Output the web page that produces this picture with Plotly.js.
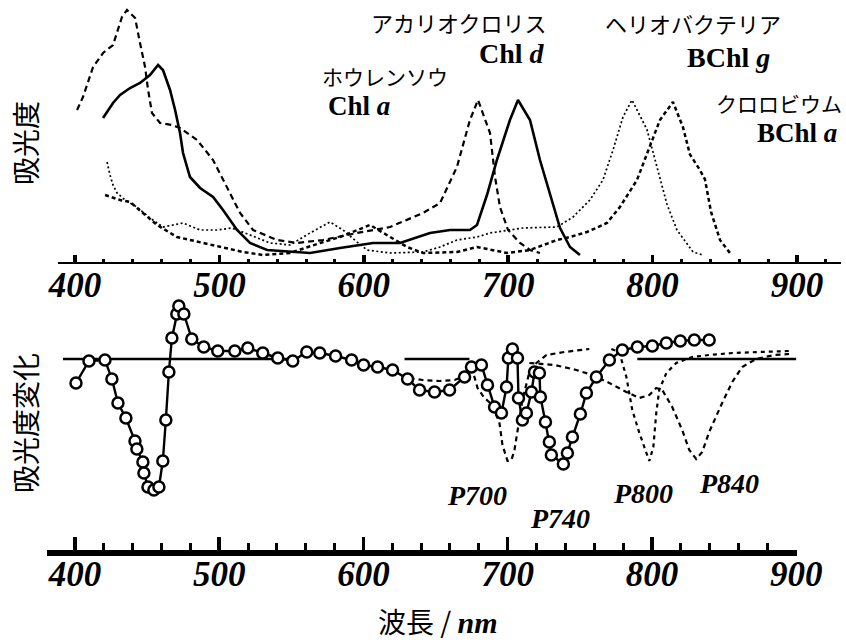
<!DOCTYPE html>
<html><head><meta charset="utf-8">
<script src="https://cdn.plot.ly/plotly-3.0.1.min.js"></script>
<style>html,body{margin:0;padding:0;background:#fff}</style>
</head><body><div id="chart" style="width:846px;height:644px"></div>
<script>
// ---- top panel: absorption spectra (wavelength nm, relative absorbance)
const spinachNm  = [401.4,405.5,412.5,419.4,426.3,432.5,436.0,441.6,445.0,448.5,450.6,453.3,458.9,467.2,472.7,484.5,495.6,505.3,514.3,523.3,539.9,553.7,571.7,595.3,618.1,641.0,652.8,664.5,673.5,679.1,687.4,690.9,694.3,699.9,708.2,715.1,722.0];
const spinachAbs = [0.608,0.66,0.78,0.836,0.868,0.98,1.008,0.976,0.876,0.78,0.688,0.596,0.556,0.548,0.536,0.488,0.408,0.30,0.196,0.128,0.088,0.076,0.088,0.116,0.14,0.196,0.236,0.38,0.568,0.648,0.516,0.34,0.22,0.128,0.076,0.048,0.036];

const chlDNm  = [419.4,426.3,431.2,438.1,445.0,451.9,457.5,460.9,465.8,469.3,472.7,474.8,479.6,486.6,495.6,502.5,512.2,521.2,533.0,548.9,562.7,583.5,606.4,625.1,645.8,659.7,673.5,678.4,685.3,692.2,701.2,706.8,715.1,722.0,728.9,735.9,742.8,749.7];
const chlDAbs = [0.576,0.636,0.668,0.696,0.716,0.748,0.788,0.768,0.688,0.608,0.516,0.436,0.34,0.296,0.26,0.208,0.128,0.076,0.048,0.04,0.036,0.056,0.076,0.076,0.116,0.128,0.128,0.148,0.268,0.408,0.568,0.648,0.568,0.408,0.268,0.136,0.06,0.028];

const helioNm  = [422.2,424.2,426.3,429.1,434.6,442.9,451.9,460.9,474.8,486.6,498.3,508.7,521.2,535.0,548.9,562.7,576.6,585.6,595.3,602.2,618.1,641.0,652.8,664.5,678.4,687.4,710.2,733.8,744.9,756.6,765.6,772.6,779.5,785.7,796.1,800.3,805.1,810.0,816.9,828.0,834.9];
const helioAbs = [0.40,0.348,0.308,0.276,0.248,0.22,0.176,0.14,0.156,0.128,0.128,0.136,0.108,0.076,0.068,0.116,0.16,0.128,0.08,0.048,0.036,0.04,0.06,0.088,0.10,0.116,0.136,0.14,0.18,0.248,0.328,0.448,0.58,0.648,0.53,0.44,0.34,0.23,0.128,0.04,0.028];

const chlorobiumNm  = [420.8,426.3,431.2,438.1,447.1,456.8,470.6,486.6,502.5,516.3,530.2,548.9,569.7,583.5,604.3,618.1,629.9,641.0,664.5,678.4,699.2,715.1,733.8,742.8,754.6,768.4,777.4,789.2,798.2,805.1,814.1,821.0,825.9,832.8,836.3,840.5,846.7,853.6];
const chlorobiumAbs = [0.268,0.256,0.248,0.24,0.196,0.148,0.10,0.08,0.06,0.04,0.028,0.036,0.076,0.10,0.148,0.10,0.06,0.036,0.04,0.06,0.036,0.048,0.088,0.10,0.12,0.156,0.22,0.328,0.46,0.568,0.64,0.54,0.43,0.368,0.33,0.20,0.088,0.036];

// ---- bottom panel: absorbance-change spectra
const diffNm  = [400.7,409.7,420.8,425.6,429.8,435.3,441.6,442.9,447.1,447.8,450.6,454.7,458.2,460.9,463.0,465.1,467.2,470.6,472.0,475.5,481.0,489.3,499.0,510.8,519.8,530.2,540.6,551.0,560.7,569.7,580.7,591.8,600.1,609.8,620.2,630.6,638.9,649.3,659.7,670.1,674.9,681.8,686.0,690.9,695.7,699.2,700.5,703.3,706.8,707.5,710.2,713.0,716.5,718.6,722.0,722.7,726.2,728.9,730.3,738.6,741.4,744.9,750.4,754.6,761.5,770.5,779.5,789.9,800.3,810.0,819.7,829.4,839.7];
const diffVal = [-0.24,-0.02,-0.01,-0.20,-0.44,-0.59,-0.82,-0.90,-1.03,-1.14,-1.28,-1.31,-1.28,-1.02,-0.61,-0.13,0.21,0.45,0.53,0.45,0.20,0.12,0.08,0.08,0.11,0.06,0.01,-0.02,0.07,0.06,0.03,-0.01,-0.06,-0.08,-0.11,-0.20,-0.31,-0.33,-0.31,-0.18,-0.08,-0.06,-0.26,-0.48,-0.54,-0.28,0.01,0.10,0.01,-0.39,-0.61,-0.54,-0.33,-0.13,-0.14,-0.38,-0.63,-0.83,-0.96,-1.05,-0.94,-0.78,-0.55,-0.34,-0.18,-0.01,0.09,0.12,0.13,0.16,0.18,0.19,0.19];

const p700Nm  = [632.0,641.0,652.8,663.2,671.5,675.6,679.1,683.9,689.5,694.3,696.4,699.9,702.6,704.7,707.5,710.2,715.1,719.9,726.9,739.3,756.6];
const p700Val = [-0.19,-0.21,-0.22,-0.21,-0.16,-0.11,-0.29,-0.39,-0.46,-0.64,-0.86,-1.02,-1.01,-0.91,-0.66,-0.41,-0.13,-0.04,0.04,0.07,0.10];

const p800Nm  = [771.9,777.4,782.3,786.4,791.3,796.1,798.2,801.0,803.0,805.1,810.0,816.9,828.0,839.7,855.7,874.4,895.1];
const p800Val = [0.10,0.07,-0.18,-0.51,-0.74,-0.94,-1.02,-0.88,-0.54,-0.31,-0.14,-0.04,0.02,0.04,0.06,0.07,0.08];

const p840Nm  = [715.1,732.4,747.6,758.7,770.5,782.3,791.3,798.2,803.0,807.2,814.1,821.0,825.9,830.7,834.9,839.7,848.7,855.7,862.6,872.3,884.7,895.1];
const p840Val = [-0.04,-0.06,-0.11,-0.16,-0.24,-0.33,-0.39,-0.36,-0.29,-0.31,-0.48,-0.71,-0.91,-1.00,-0.93,-0.73,-0.44,-0.23,-0.08,0.00,0.04,0.05];

const baseNm  = [391.7,554.4,null,628.5,673.5,null,789.9,900];
const baseVal = [0,0,null,0,0,null,0,0];

const tickVals = [400,500,600,700,800,900];
const tickText = ['400','500','600','700','800','900'];

// ---- traces
const K = '#000';
function line(x, y, xa, ya, width, dash){
  return {x:x, y:y, xaxis:xa, yaxis:ya, type:'scatter', mode:'lines', hoverinfo:'skip',
          line:{color:K, width:width, dash:dash}, showlegend:false};
}
const traces = [
  line(spinachNm, spinachAbs, 'x', 'y', 2.2, '6px,4px'),
  line(helioNm, helioAbs, 'x', 'y', 1.7, '2px,2.5px'),
  line(chlorobiumNm, chlorobiumAbs, 'x', 'y', 2.5, '4px,3px'),
  line(chlDNm, chlDAbs, 'x', 'y', 2.6, 'solid'),
  line(baseNm, baseVal, 'x2', 'y2', 2.6, 'solid'),
  line(p700Nm, p700Val, 'x2', 'y2', 2.2, '5px,4px'),
  line(p800Nm, p800Val, 'x2', 'y2', 2.2, '4px,4px'),
  line(p840Nm, p840Val, 'x2', 'y2', 2.2, '5px,4px'),
  {x:diffNm, y:diffVal, xaxis:'x2', yaxis:'y2', type:'scatter', mode:'lines+markers', hoverinfo:'skip',
   line:{color:K, width:2.4}, marker:{symbol:'circle', size:11, color:'#fff', line:{color:K, width:2.5}}, showlegend:false}
];

// ---- layout
const W = 846, H = 644;
const fx = v => v / W, fy = v => 1 - v / H;
const tickFont = {family:'Liberation Serif, Times New Roman, serif', size:35, weight:'bold', style:'italic', color:K};
const jp = 'Noto Sans CJK JP, sans-serif';
const serif = 'Liberation Serif, Times New Roman, serif';
function ann(text, x, y, size, family, xanchor, extra){
  return Object.assign({text:text, x:fx(x), y:fy(y), xref:'paper', yref:'paper', showarrow:false,
    xanchor:xanchor||'center', yanchor:'middle', borderpad:0, font:{family:family, size:size, color:K}}, extra||{});
}
const hidden = {showline:false, showgrid:false, zeroline:false, showticklabels:false, ticks:''};

const layout = {
  width:W, height:H, margin:{l:0, r:0, t:0, b:0},
  paper_bgcolor:'#fff', plot_bgcolor:'rgba(0,0,0,0)', showlegend:false,
  xaxis:{domain:[fx(58), fx(841)], range:[388.2, 930.5], anchor:'y',
         showline:true, linecolor:K, linewidth:2.2, showgrid:false, zeroline:false,
         ticks:'inside', ticklen:7, tickwidth:3.5, tickcolor:K,
         tickvals:tickVals, ticktext:tickText, tickfont:tickFont, ticklabelstandoff:-9,
         minor:{ticks:'inside', dtick:20, tick0:400, ticklen:3.5, tickwidth:3, tickcolor:K, showgrid:false}},
  yaxis:Object.assign({domain:[fy(262), 1], range:[0, 1.048]}, hidden),
  xaxis2:{domain:[fx(47), fx(797)], range:[380.6, 900.6], anchor:'y2',
         showline:true, linecolor:K, linewidth:6, showgrid:false, zeroline:false,
         ticks:'inside', ticklen:13, tickwidth:3.5, tickcolor:K,
         tickvals:tickVals, ticktext:tickText, tickfont:tickFont, ticklabelstandoff:-12,
         minor:{ticks:'inside', dtick:20, tick0:400, ticklen:7, tickwidth:3, tickcolor:K, showgrid:false}},
  yaxis2:Object.assign({domain:[fy(550), fy(290)], range:[-1.91, 0.69]}, hidden),
  annotations:[
    ann('吸光度', 25, 143, 28, jp, 'center', {textangle:-90}),
    ann('吸光度変化', 25, 423, 28, jp, 'center', {textangle:-90}),
    ann('波長 / <span style="font-family:Liberation Serif;font-size:30px"><b><i>nm</i></b></span>', 438, 621, 28, jp, 'center'),
    ann('アカリオクロリス', 548, 22, 22, jp, 'right'),
    ann('<b>Chl <i>d</i></b>', 546, 53, 28, serif, 'right'),
    ann('ホウレンソウ', 321, 76, 21, jp, 'left'),
    ann('<b>Chl <i>a</i></b>', 327, 106, 27, serif, 'left'),
    ann('ヘリオバクテリア', 782, 23, 22, jp, 'right'),
    ann('<b>BChl <i>g</i></b>', 771, 57, 28, serif, 'right'),
    ann('クロロビウム', 843, 103, 21, jp, 'right'),
    ann('<b>BChl <i>a</i></b>', 838, 133, 27, serif, 'right'),
    ann('<b><i>P700</i></b>', 477, 495, 28, serif, 'center'),
    ann('<b><i>P740</i></b>', 560, 518, 28, serif, 'center'),
    ann('<b><i>P800</i></b>', 643, 493, 28, serif, 'center'),
    ann('<b><i>P840</i></b>', 729, 483, 28, serif, 'center')
  ]
};

Plotly.newPlot('chart', traces, layout, {staticPlot:true, displayModeBar:false});
</script>
</body></html>
